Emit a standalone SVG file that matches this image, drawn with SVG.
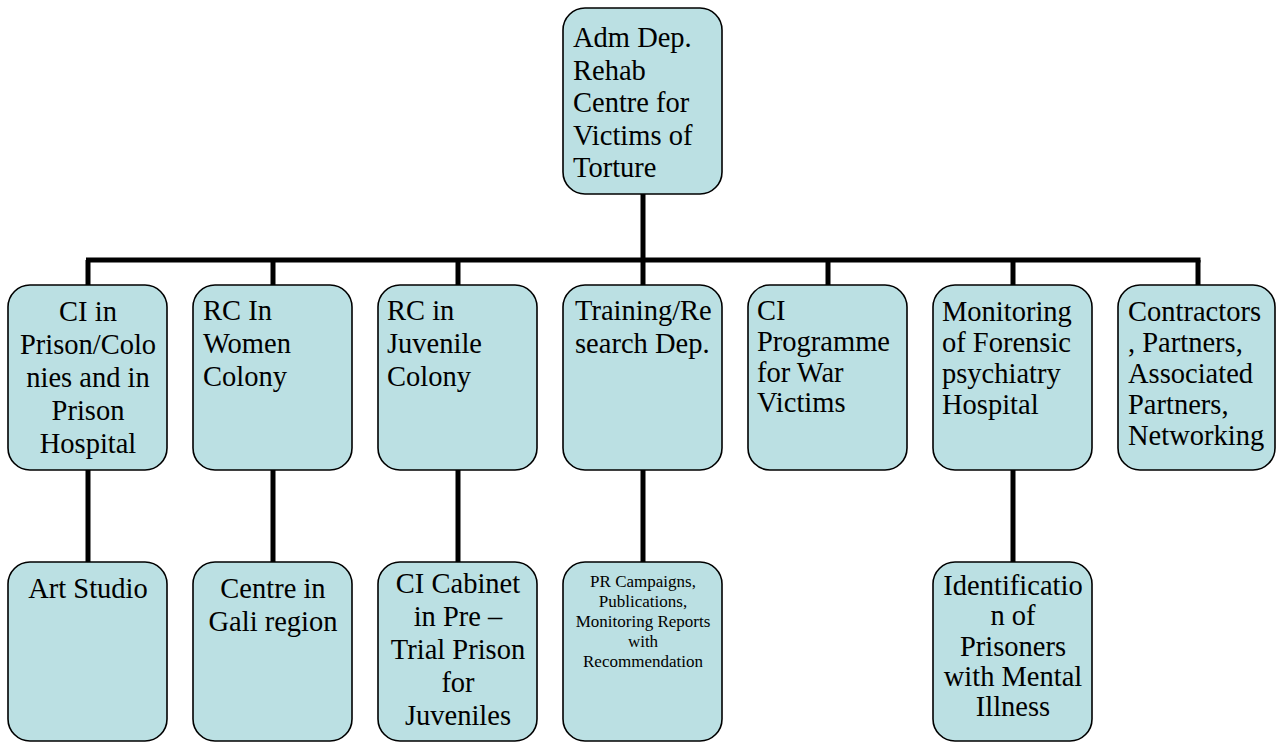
<svg xmlns="http://www.w3.org/2000/svg" width="1276" height="742" viewBox="0 0 1276 742">
<style>
.box{fill:#BBE0E3;stroke:#000;stroke-width:1.6}
.conn{stroke:#000;stroke-width:5;fill:none}
.t{font-family:'Liberation Serif',Tinos,'Times New Roman',Times,'DejaVu Serif',serif;font-size:28.5px;fill:#000}
.c{text-anchor:middle}
.s{font-size:17px}
</style>
<rect x="0" y="0" width="1276" height="742" fill="#fff"/>
<g id="connectors">
<line class="conn" x1="643" y1="194" x2="643" y2="260"/>
<line class="conn" x1="86" y1="260" x2="1200.5" y2="260"/>
<line class="conn" x1="88" y1="260" x2="88" y2="286"/>
<line class="conn" x1="273" y1="260" x2="273" y2="286"/>
<line class="conn" x1="458" y1="260" x2="458" y2="286"/>
<line class="conn" x1="643" y1="260" x2="643" y2="286"/>
<line class="conn" x1="828" y1="260" x2="828" y2="286"/>
<line class="conn" x1="1013" y1="260" x2="1013" y2="286"/>
<line class="conn" x1="1198" y1="260" x2="1198" y2="286"/>
<line class="conn" x1="88" y1="470" x2="88" y2="563"/>
<line class="conn" x1="273" y1="470" x2="273" y2="563"/>
<line class="conn" x1="458" y1="470" x2="458" y2="563"/>
<line class="conn" x1="643" y1="470" x2="643" y2="563"/>
<line class="conn" x1="1013" y1="470" x2="1013" y2="563"/>
</g>
<g class="t" font-family="Liberation Serif, Tinos, Times New Roman, serif">
<g id="n0">
<rect class="box" x="563" y="8" width="159" height="186" rx="22"/>
<text x="573" y="47">Adm Dep.</text>
<text x="573" y="79.5">Rehab</text>
<text x="573" y="112">Centre for</text>
<text x="573" y="144.5">Victims of</text>
<text x="573" y="177">Torture</text>
</g>
<g id="n1">
<rect class="box" x="8" y="285" width="159" height="185" rx="22"/>
<text class="c" x="88" y="321">CI in</text>
<text class="c" x="88" y="354">Prison/Colo</text>
<text class="c" x="88" y="387">nies and in</text>
<text class="c" x="88" y="420">Prison</text>
<text class="c" x="88" y="453">Hospital</text>
</g>
<g id="n2">
<rect class="box" x="193" y="285" width="159" height="185" rx="22"/>
<text x="203" y="320">RC In</text>
<text x="203" y="353">Women</text>
<text x="203" y="386">Colony</text>
</g>
<g id="n3">
<rect class="box" x="378" y="285" width="159" height="185" rx="22"/>
<text x="387" y="320">RC in</text>
<text x="387" y="353">Juvenile</text>
<text x="387" y="386">Colony</text>
</g>
<g id="n4">
<rect class="box" x="563" y="285" width="159" height="185" rx="22"/>
<text x="575" y="320">Training/Re</text>
<text x="575" y="353">search Dep.</text>
</g>
<g id="n5">
<rect class="box" x="748" y="285" width="159" height="185" rx="22"/>
<text x="757" y="320">CI</text>
<text x="757" y="351">Programme</text>
<text x="757" y="381.5">for War</text>
<text x="757" y="412">Victims</text>
</g>
<g id="n6">
<rect class="box" x="933" y="285" width="159" height="185" rx="22"/>
<text x="942" y="321">Monitoring</text>
<text x="942" y="352">of Forensic</text>
<text x="942" y="383">psychiatry</text>
<text x="942" y="414">Hospital</text>
</g>
<g id="n7">
<rect class="box" x="1118" y="285" width="157" height="185" rx="22"/>
<text x="1128" y="321">Contractors</text>
<text x="1128" y="352">, Partners,</text>
<text x="1128" y="383">Associated</text>
<text x="1128" y="414">Partners,</text>
<text x="1128" y="445">Networking</text>
</g>
<g id="n8">
<rect class="box" x="8" y="562" width="159" height="179" rx="22"/>
<text class="c" x="88" y="598">Art Studio</text>
</g>
<g id="n9">
<rect class="box" x="193" y="562" width="159" height="179" rx="22"/>
<text class="c" x="273" y="598">Centre in</text>
<text class="c" x="273" y="631">Gali region</text>
</g>
<g id="n10">
<rect class="box" x="378" y="562" width="159" height="179" rx="22"/>
<text class="c" x="458" y="593">CI Cabinet</text>
<text class="c" x="458" y="626">in Pre –</text>
<text class="c" x="458" y="658.5">Trial Prison</text>
<text class="c" x="458" y="691.5">for</text>
<text class="c" x="458" y="724.5">Juveniles</text>
</g>
<g id="n11">
<rect class="box" x="563" y="562" width="159" height="179" rx="22"/>
<text class="c s" x="643" y="587">PR Campaigns,</text>
<text class="c s" x="643" y="607">Publications,</text>
<text class="c s" x="643" y="627">Monitoring Reports</text>
<text class="c s" x="643" y="647">with</text>
<text class="c s" x="643" y="667">Recommendation</text>
</g>
<g id="n12">
<rect class="box" x="933" y="562" width="159" height="179" rx="22"/>
<text class="c" x="1013" y="595">Identificatio</text>
<text class="c" x="1013" y="625">n of</text>
<text class="c" x="1013" y="656">Prisoners</text>
<text class="c" x="1013" y="686">with Mental</text>
<text class="c" x="1013" y="716">Illness</text>
</g>
</g>
</svg>
